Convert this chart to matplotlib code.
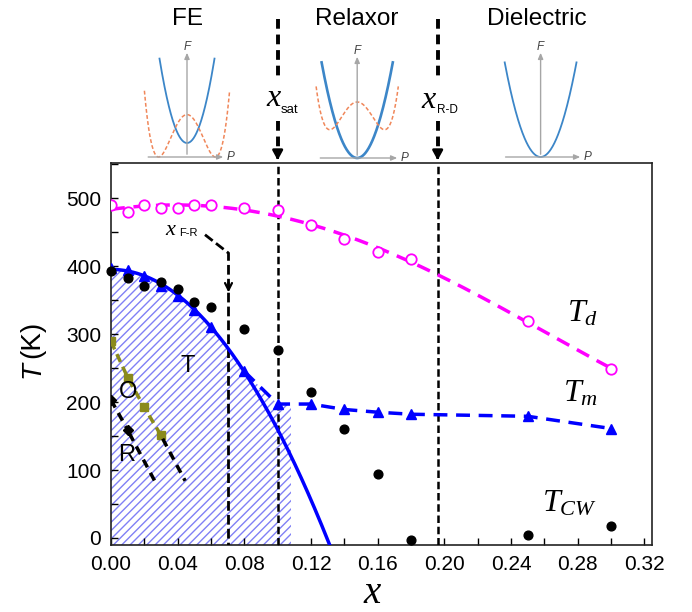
import numpy as np
import matplotlib
matplotlib.use('Agg')
import matplotlib.pyplot as plt
from matplotlib.ticker import MultipleLocator, FormatStrFormatter

plt.rcParams['font.family'] = ['Liberation Sans', 'DejaVu Sans']
plt.rcParams['mathtext.fontset'] = 'custom'
plt.rcParams['mathtext.it'] = 'Liberation Serif:italic'
plt.rcParams['mathtext.rm'] = 'Liberation Serif'
plt.rcParams['mathtext.sf'] = 'Liberation Sans'
plt.rcParams['hatch.linewidth'] = 1.0

# ---------------- data ----------------
x_Td = [0.00, 0.01, 0.02, 0.03, 0.04, 0.05, 0.06, 0.08, 0.10, 0.12, 0.14, 0.16, 0.18, 0.25, 0.30]
T_d = [490, 480, 490, 485, 485, 490, 490, 485, 483, 460, 440, 420, 410, 319, 249]

x_Tm = [0.00, 0.01, 0.02, 0.03, 0.04, 0.05, 0.06, 0.08, 0.10, 0.12, 0.14, 0.16, 0.18, 0.25, 0.30]
T_m = [397, 394, 386, 371, 356, 335, 311, 245, 197, 197, 189, 185, 182, 179, 161]

x_Tcw = [0.00, 0.01, 0.02, 0.03, 0.04, 0.05, 0.06, 0.08, 0.10, 0.12, 0.14, 0.16, 0.18, 0.25, 0.30]
T_cw = [392, 383, 371, 377, 366, 347, 339, 308, 276, 215, 160, 94, -3, 5, 18]

x_O = [0.00, 0.01, 0.02, 0.03]
T_O = [289, 236, 192, 151]
x_O_ext = [0.031, 0.0445]
T_O_ext = [146, 84]

x_R = [0.00, 0.01]
T_R = [203, 159]
x_R_ext = [0.011, 0.0275]
T_R_ext = [154, 78]

x_sat = 0.100
x_RD = 0.196
x_FR = 0.0705
x_hatch_edge = 0.108
x_FE_max = 0.08          # last composition on the FE (solid) T_m branch

x_ticks = [0.00, 0.04, 0.08, 0.12, 0.16, 0.20, 0.24, 0.28, 0.32]
y_ticks = [0, 100, 200, 300, 400, 500]

# ---------------- figure ----------------
W, H = 692, 612
fig = plt.figure(figsize=(W / 100, H / 100), dpi=100)


def ptext(px, py, s, **kw):
    return fig.text(px / W, 1 - py / H, s, **kw)


ax = fig.add_axes([111 / W, 1 - 545 / H, 541 / W, 382 / H])
YB, YT = -10.3, 551.5
ax.set_xlim(0, 0.3246)
ax.set_ylim(YB, YT)

# FE branch of T_m: parabolic fit T = a + b x^2 on FE compositions
nfe = sum(1 for v in x_Tm if v <= x_FE_max)
coef = np.polyfit(np.square(x_Tm[:nfe]), T_m[:nfe], 1)
x_end = np.sqrt((YB - coef[1]) / coef[0])
xc = np.linspace(0, x_end, 300)
Tc = np.polyval(coef, xc ** 2)

# hatched T region
m = xc <= x_FE_max
T10 = T_m[x_Tm.index(0.10)]
hx = np.concatenate([xc[m], [0.10, x_hatch_edge, x_hatch_edge, 0]])
hy = np.concatenate([Tc[m], [T10, T10, YB, YB]])
ax.fill(hx, hy, facecolor='none', edgecolor='#8080f5', lw=0, hatch='////', zorder=1)

# T_d
cd = np.polyfit(x_Td, T_d, 4)
xd = np.linspace(0, max(x_Td), 300)
ax.plot(xd, np.polyval(cd, xd), color='#ff00ff', lw=2.5, dashes=(4, 2.5), zorder=4)
ax.plot(x_Td, T_d, ls='none', marker='o', ms=7.5, mfc='white', mec='#ff00ff', mew=1.3, zorder=5)

# T_m
ax.plot(xc, Tc, color='#0000ff', lw=2.5, zorder=4)
ax.plot(x_Tm[nfe - 1:], T_m[nfe - 1:], color='#0000ff', lw=2.5, dashes=(4, 2.5), zorder=4)
ax.plot(x_Tm, T_m, ls='none', marker='^', ms=7.5, color='#0000ff', zorder=5)

# T_CW
ax.plot(x_Tcw, T_cw, ls='none', marker='o', ms=6.3, color='black', zorder=6, clip_on=False)

# O and R boundaries
ax.plot(x_O, T_O, color='#8a8a1c', lw=2.5, dashes=(2.5, 1.5), marker='s', ms=6, zorder=5)
ax.plot(x_O_ext, T_O_ext, color='black', lw=2.5, dashes=(2.5, 1.8), zorder=5)
ax.plot(x_R, T_R, color='black', lw=2.5, dashes=(2.5, 1.8), marker='D', ms=5.5, zorder=5)
ax.plot(x_R_ext, T_R_ext, color='black', lw=2.5, dashes=(2.5, 1.8), zorder=5)

# vertical boundary lines inside axes
for xv in (x_sat, x_RD):
    ax.plot([xv, xv], [YB, YT], color='black', lw=1.8, dashes=(3, 1.5), zorder=3)
ax.plot([0.0564, x_FR, x_FR], [446, 419, YB], color='black', lw=2.0, dashes=(3.5, 1.5), zorder=3)
ax.annotate('', xy=(x_FR, 357), xytext=(x_FR, 380),
            arrowprops=dict(arrowstyle='->,head_length=0.5,head_width=0.25', lw=1.6, color='black'))

# dashed lines above the axes with arrows
for xv in (x_sat, x_RD):
    ax.plot([xv, xv], [763, 679], color='black', lw=2.8, dashes=(2.5, 1.5), clip_on=False)
    ax.plot([xv, xv], [613, 565], color='black', lw=2.8, dashes=(2.5, 1.5), clip_on=False)
    ax.annotate('', xy=(xv, YT), xytext=(xv, 566), annotation_clip=False,
                arrowprops=dict(arrowstyle='-|>,head_length=0.55,head_width=0.3', lw=2, color='black'))

# axes styling
ax.set_xticks(x_ticks)
ax.set_yticks(y_ticks)
ax.xaxis.set_major_formatter(FormatStrFormatter('%.2f'))
ax.xaxis.set_minor_locator(MultipleLocator(0.02))
ax.yaxis.set_minor_locator(MultipleLocator(50))
ax.tick_params(which='both', direction='in', length=5, width=1, top=False, right=False)
ax.tick_params(labelsize=15, pad=7)
for s in ax.spines.values():
    s.set_linewidth(1.2)
    s.set_color('#222222')

# labels inside axes
ax.text(0.046, 253, 'T', fontsize=17, ha='center', va='center', zorder=7)
ax.text(0.0102, 215, 'O', fontsize=17, ha='center', va='center', zorder=7)
ax.text(0.0093, 122, 'R', fontsize=17, ha='center', va='center', zorder=7)

ptext(567, 322, r'$T_d$', fontsize=23, va='baseline')
ptext(563, 402, r'$T_m$', fontsize=23, va='baseline')
ptext(542, 511, r'$T_{CW}$', fontsize=23, va='baseline')

ptext(266, 106, 'x', fontsize=23, family='Liberation Serif', style='italic', va='baseline')
ptext(281, 113, 'sat', fontsize=9.5, va='baseline')
ptext(421.5, 108, 'x', fontsize=23, family='Liberation Serif', style='italic', va='baseline')
ptext(437, 113, 'R-D', fontsize=8.5, va='baseline')
ptext(165.7, 235, 'x', fontsize=16, family='Liberation Serif', style='italic', va='baseline')
ptext(179, 236, 'F-R', fontsize=8, va='baseline')

# axis labels
ptext(372, 603, 'x', fontsize=28, family='Liberation Serif', style='italic', ha='center', va='baseline')
ptext(32, 378, 'T', fontsize=20, style='italic', rotation=90, ha='center', va='bottom')
ptext(32, 358, '(K)', fontsize=20, rotation=90, ha='center', va='bottom')

# titles
ptext(187.7, 19, 'FE', fontsize=17.5, ha='center', va='center')
ptext(357, 19, 'Relaxor', fontsize=17.5, ha='center', va='center')
ptext(536.8, 19, 'Dielectric', fontsize=17.5, ha='center', va='center')

# ---------------- schematic free-energy insets ----------------
ov = fig.add_axes([0, 0, 1, 1], zorder=-1)
ov.set_xlim(0, W)
ov.set_ylim(H, 0)
ov.axis('off')

insets = [
    dict(cx=187, y0=157, xl=145.4, xr=226, vt=50, pw=27.5, pmin=143, ptop=58.6, lw=1.3,
         well=dict(w=28.4, ymin=157, ymax=114.6, u=1.5)),
    dict(cx=357.2, y0=158, xl=317.5, xr=400, vt=54, pw=35.6, pmin=158, ptop=62.4, lw=1.9,
         well=dict(w=27.4, ymin=129.7, ymax=102, u=1.5)),
    dict(cx=540.6, y0=157, xl=502.8, xr=583, vt=50, pw=35.9, pmin=157, ptop=62.4, lw=1.3, well=None),
]
gray = '#a6a6a6'
for d in insets:
    ov.annotate('', xy=(d['xr'], d['y0']), xytext=(d['xl'], d['y0']),
                arrowprops=dict(arrowstyle='-|>,head_length=0.35,head_width=0.15', lw=1, color=gray))
    ov.annotate('', xy=(d['cx'], d['vt']), xytext=(d['cx'], d['y0']),
                arrowprops=dict(arrowstyle='-|>,head_length=0.35,head_width=0.15', lw=1, color=gray))
    ov.text(d['cx'], d['vt'] - 3, 'F', fontsize=8.5, style='italic', color='#404040', ha='center', va='center')
    ov.text(d['xr'] + 5, d['y0'], 'P', fontsize=8.5, style='italic', color='#404040', ha='center', va='center')
    u = np.linspace(-1, 1, 200)
    ov.plot(d['cx'] + d['pw'] * u, d['pmin'] - (d['pmin'] - d['ptop']) * u ** 2,
            color='#3c86c8', lw=d['lw'])
    if d['well']:
        wl = d['well']
        uu = np.linspace(-wl['u'], wl['u'], 300)
        ov.plot(d['cx'] + wl['w'] * uu, wl['ymin'] - (wl['ymin'] - wl['ymax']) * (uu ** 2 - 1) ** 2,
                color='#f0875a', lw=1.1, dashes=(2.5, 1.5))

fig.savefig('out.png', dpi=100)
